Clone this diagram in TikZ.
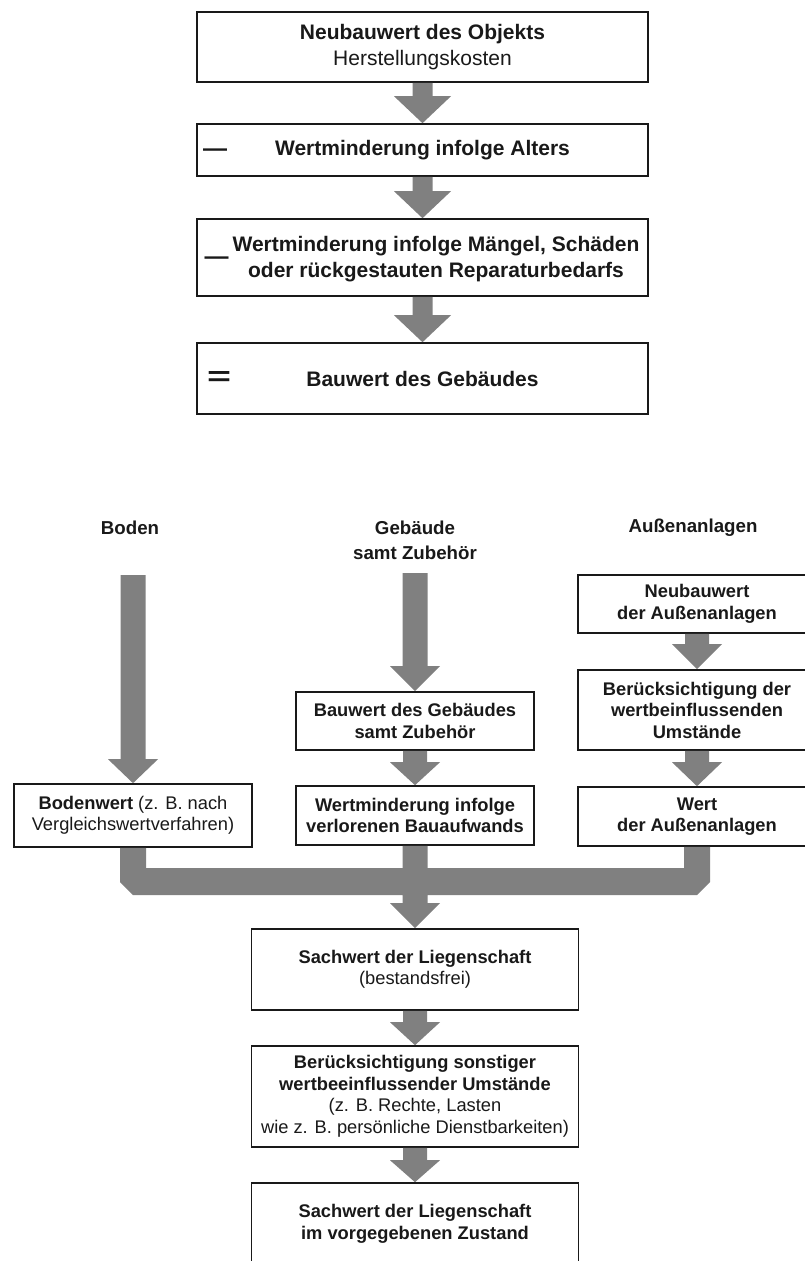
\documentclass[tikz,border=0pt]{standalone}
\usepackage{fontspec}
\setmainfont{Liberation Sans}
\usetikzlibrary{calc}
\definecolor{arrowgray}{RGB}{128,128,128}
\definecolor{inkc}{RGB}{25,25,25}
% #1 source point, #2 target point, #3 shaft half width, #4 head half width, #5 head length
\newcommand{\blockarrow}[5]{%
  \fill[arrowgray] ($#1+(-#3,0)$) -- ($#1+(#3,0)$) -- ($#2+(#3,-#5)$) -- ($#2+(#4,-#5)$) -- #2 -- ($#2+(-#4,-#5)$) -- ($#2+(-#3,-#5)$) -- cycle;}
\begin{document}
\begin{tikzpicture}[x=1pt,y=-1pt,
  box/.style={draw=inkc, line width=1.6pt, fill=white, inner sep=0pt, align=center, text=inkc},
  topbox/.style={box, minimum width=451pt, font=\fontsize{21}{25.5}\selectfont},
  botbox/.style={box, font=\fontsize{18.3}{21.5}\selectfont},
  txt/.style={inner sep=0pt, align=center, text=inkc},
  lab/.style={inner sep=0pt, align=center, text=inkc, font=\bfseries\fontsize{18.7}{25}\selectfont},
  sign/.style={inner sep=0pt, text=inkc, font=\bfseries\fontsize{24}{24}\selectfont}]
\useasboundingbox (0,0) rectangle (805,1261);
\clip (0,0) rectangle (805,1261);

% ---------- upper chain ----------
\node[topbox, minimum height=70pt] (b1) at (422.5,47) {\textbf{Neubauwert des Objekts}\\Herstellungskosten};
\node[topbox, minimum height=52pt] (b2) at (422.5,150) {\textbf{Wertminderung infolge Alters}};
\node[topbox, minimum height=77pt] (b3) at (422.5,257.5) {};
\node[txt, font=\fontsize{21}{25.5}\selectfont] (b3t) at (436,259) {\textbf{Wertminderung infolge Mängel, Schäden}\\\textbf{oder rückgestauten Reparaturbedarfs}};
\node[topbox, minimum height=71pt] (b4) at (422.5,378.5) {\textbf{Bauwert des Gebäudes}};

\node[sign, anchor=base] (s2) at (215,156.5) {—};
\node[sign, anchor=base] (s3) at (216.5,264.5) {—};
\node[inner sep=0pt, text=inkc] (s4) at (219,378) {\resizebox{24pt}{14pt}{\bfseries =}};

\blockarrow{(b1.south)}{(b2.north)}{10}{28.5}{27}
\blockarrow{(b2.south)}{(b3.north)}{10}{28.5}{27}
\blockarrow{(b3.south)}{(b4.north)}{10}{28.5}{27}

% ---------- lower part ----------
\node[lab] (lboden) at (130,528) {Boden};
\node[lab] (lgeb) at (415,540.5) {Gebäude\\samt Zubehör};
\node[lab] (laussen) at (693,528) {Außenanlagen};

\coordinate (bodtop) at (133,575);
\coordinate (gebtop) at (415,573);

\node[botbox, minimum width=238pt, minimum height=63pt] (boden) at (133,815.5) {\textbf{Bodenwert} (z. B. nach\\Vergleichswertverfahren)};
\node[botbox, minimum width=238pt, minimum height=58pt] (m1) at (415,721) {\textbf{Bauwert des Gebäudes}\\\textbf{samt Zubehör}};
\node[botbox, minimum width=238pt, minimum height=59pt] (m2) at (415,815.5) {\textbf{Wertminderung infolge}\\\textbf{verlorenen Bauaufwands}};
\node[botbox, minimum width=238pt, minimum height=58pt] (r1) at (697,604) {\textbf{Neubauwert}\\\textbf{der Außenanlagen}};
\node[botbox, minimum width=238pt, minimum height=80pt] (r2) at (697,710) {\textbf{Berücksichtigung der}\\\textbf{wertbeinflussenden}\\\textbf{Umstände}};
\node[botbox, minimum width=238pt, minimum height=59pt] (r3) at (697,816.5) {\textbf{Wert}\\\textbf{der Außenanlagen}};

\node[botbox, minimum width=327pt, minimum height=81pt] (s1) at (415,969.5) {\textbf{Sachwert der Liegenschaft}\\(bestandsfrei)};
\node[botbox, minimum width=327pt, minimum height=101pt] (sb2) at (415,1096.5) {\textbf{Berücksichtigung sonstiger}\\\textbf{wertbeeinflussender Umstände}\\(z. B. Rechte, Lasten\\wie z. B. persönliche Dienstbarkeiten)};
\node[botbox, minimum width=327pt, minimum height=82pt] (sb3) at (415,1224) {\textbf{Sachwert der Liegenschaft}\\\textbf{im vorgegebenen Zustand}};

\blockarrow{(bodtop)}{(boden.north)}{12.5}{25}{24}
\blockarrow{(gebtop)}{(m1.north)}{12.5}{25}{25}
\blockarrow{(m1.south)}{(m2.north)}{12}{25}{23}
\blockarrow{(r1.south)}{(r2.north)}{12}{25}{25}
\blockarrow{(r2.south)}{(r3.north)}{12}{25}{24}
\blockarrow{(s1.south)}{(sb2.north)}{12}{25}{23}
\blockarrow{(sb2.south)}{(sb3.north)}{12}{25}{22}

% merging connector
\coordinate (bartop) at (0,868);
\coordinate (barmid) at (0,882);
\coordinate (barbot) at (0,895);
\coordinate (hbase) at (0,903);
\path (boden.south) ++(-13,0) coordinate (la) ++(26,0) coordinate (lb);
\path (m2.south) ++(-12.5,0) coordinate (ma) ++(25,0) coordinate (mb);
\path (r3.south) ++(-13,0) coordinate (ra) ++(26,0) coordinate (rb);
\path (s1.north |- hbase) ++(-25,0) coordinate (ha) ++(50,0) coordinate (hb);
\fill[arrowgray] (la) -- (lb) -- (lb |- bartop) -- (ma |- bartop) -- (ma) -- (mb) -- (mb |- bartop)
  -- (ra |- bartop) -- (ra) -- (rb) -- (rb |- barmid) -- (r3.south |- barbot) -- (mb |- barbot)
  -- (mb |- hbase) -- (hb) -- (s1.north) -- (ha) -- (ma |- hbase) -- (ma |- barbot)
  -- (boden.south |- barbot) -- (la |- barmid) -- cycle;
\end{tikzpicture}
\end{document}
